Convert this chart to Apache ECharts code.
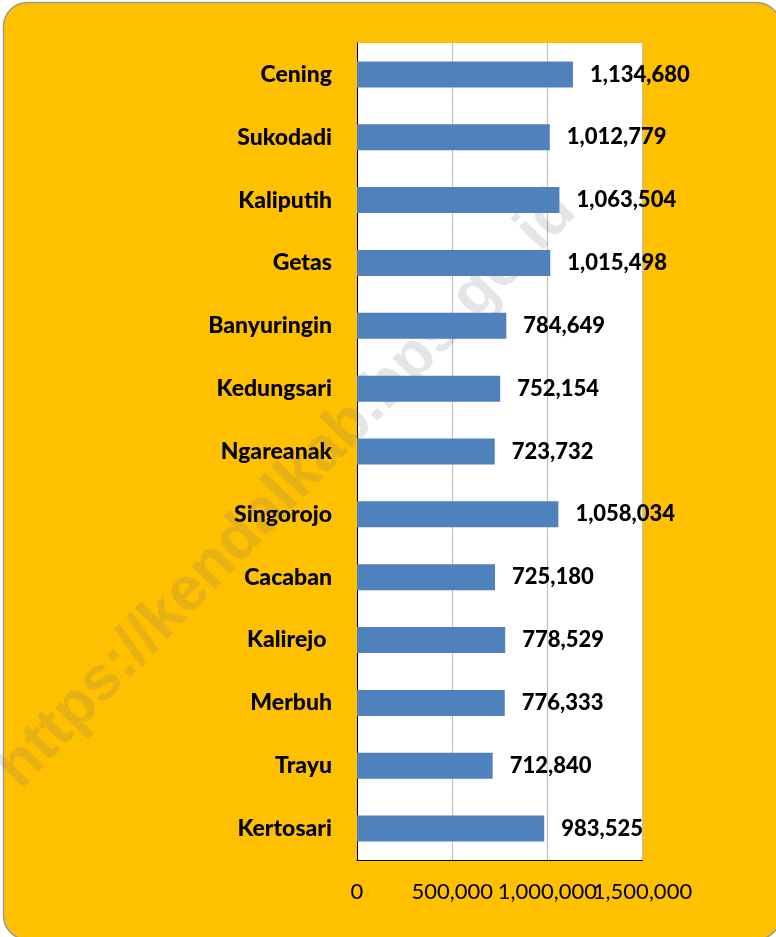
<!DOCTYPE html>
<html>
<head>
<meta charset="utf-8">
<script src="https://cdn.jsdelivr.net/npm/echarts@6/dist/echarts.min.js"></script>
<style>
html,body{margin:0;padding:0;background:#fff;}
#c{width:776px;height:937px;}
</style>
</head>
<body>
<div id="c"></div>
<script>
const categories = ["Cening","Sukodadi","Kaliputih","Getas","Banyuringin","Kedungsari","Ngareanak","Singorojo","Cacaban","Kalirejo ","Merbuh","Trayu","Kertosari"];
const values = [1134680,1012779,1063504,1015498,784649,752154,723732,1058034,725180,778529,776333,712840,983525];
const xTicks = [0,500000,1000000,1500000];
const watermark = "https://kendalkab.bps.go.id";

function fmt(v){ return String(Math.round(v)).replace(/\B(?=(\d{3})+(?!\d))/g, ","); }

const step = xTicks[1]-xTicks[0];
function tickAxis(parity, main){
  return {
    type:'value', min:xTicks[0], max:xTicks[xTicks.length-1], interval:step, z:2, position:'bottom',
    axisLine:{show:main, lineStyle:{color:'#000', width:1}},
    axisTick:{show:false},
    splitLine:{show:main, lineStyle:{color:'#BEBEBE', width:1.2}},
    axisLabel:{ margin:21, color:'#000', fontFamily:'Lato', fontSize:22, hideOverlap:false,
      showMinLabel:true, showMaxLabel:true,
      formatter:(v)=>{ const i = xTicks.indexOf(v); return (i % 2 === parity) ? fmt(v) : ''; } }
  };
}

const chart = echarts.init(document.getElementById('c'), null, {renderer:'canvas'});
chart.setOption({
  backgroundColor: '#ffffff',
  animation: false,
  graphic: [
    { type:'rect', z:0, shape:{x:3.5,y:2.5,width:777,height:937,r:24},
      style:{fill:'#FFC000', stroke:'#9A9A9A', lineWidth:1.5} },
    { type:'text', z:3, x:287, y:490, rotation: 46*Math.PI/180,
      style:{ text: watermark, fill:'rgba(110,110,110,0.18)', font:'bold 62px "Liberation Sans", Arial, sans-serif',
        align:'center', verticalAlign:'middle' } }
  ],
  grid: { left:357, top:43, right:133.5, bottom:77, show:true, backgroundColor:'#ffffff', borderWidth:0, z:2, containLabel:false },
  xAxis: [ tickAxis(0, true), tickAxis(1, false) ],
  yAxis: {
    type:'category', data:categories, inverse:true, z:2,
    axisLine:{show:true, lineStyle:{color:'#000', width:1}},
    axisTick:{show:false},
    splitLine:{show:false},
    axisLabel:{ margin:25, color:'#000', fontFamily:'Lato', fontWeight:900, fontSize:23, interval:0 }
  },
  series: [{
    type:'bar', data:values, barWidth:26, z:4, xAxisIndex:0,
    itemStyle:{color:'#4F81BD'},
    label:{ show:true, position:'right', distance:17, color:'#000', fontFamily:'Lato', fontWeight:900, fontSize:22,
      formatter:(p)=>fmt(p.value) }
  }]
});
</script>
</body>
</html>
